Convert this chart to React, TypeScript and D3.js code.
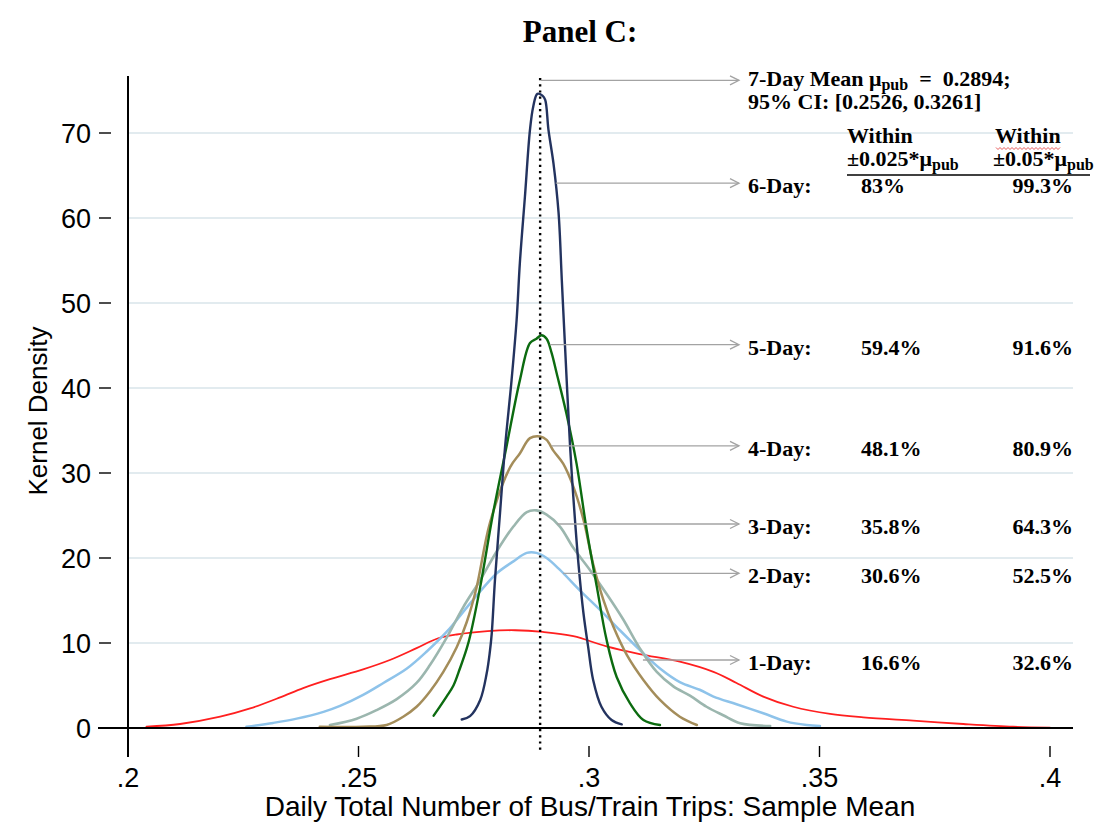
import React from 'react'
import * as d3 from 'd3'

const W = 1103
const H = 824

// kernel density curves (x = sample mean, y = density)
const day1X = [0.204, 0.2113, 0.22, 0.2265, 0.233, 0.238, 0.2438, 0.251, 0.2568, 0.2626, 0.267, 0.2713, 0.278, 0.284, 0.29, 0.2966, 0.3038, 0.311, 0.3197, 0.327, 0.332, 0.3378, 0.3443, 0.3523, 0.3595, 0.3703, 0.3812, 0.392, 0.4]
const day1Y = [0.15, 0.47, 1.33, 2.3, 3.6, 4.7, 5.75, 6.9, 8.0, 9.4, 10.5, 11.0, 11.4, 11.5, 11.3, 10.8, 9.6, 8.7, 7.8, 6.6, 5.3, 3.7, 2.5, 1.65, 1.25, 0.86, 0.47, 0.15, 0.05]

const day2X = [0.2257, 0.2315, 0.2366, 0.2424, 0.246, 0.251, 0.2554, 0.2605, 0.2648, 0.2691, 0.2749, 0.28, 0.2836, 0.2865, 0.2886, 0.2908, 0.2937, 0.298, 0.3024, 0.3067, 0.311, 0.3154, 0.3197, 0.324, 0.327, 0.332, 0.3378, 0.3429, 0.3472, 0.3501]
const day2Y = [0.15, 0.6, 1.1, 1.9, 2.6, 3.9, 5.3, 7.0, 9.0, 11.3, 15.1, 18.2, 19.6, 20.6, 20.6, 20.0, 18.6, 16.2, 13.9, 11.5, 9.2, 7.0, 5.4, 4.5, 3.7, 2.8, 1.73, 0.75, 0.35, 0.23]

const day3X = [0.2438, 0.2496, 0.2539, 0.2583, 0.2626, 0.2655, 0.2691, 0.2727, 0.2764, 0.28, 0.2836, 0.2865, 0.2886, 0.2908, 0.2937, 0.2966, 0.3002, 0.3038, 0.3074, 0.311, 0.3147, 0.3183, 0.3219, 0.3255, 0.3291, 0.3328, 0.3393]
const day3Y = [0.35, 1.1, 2.1, 3.4, 5.3, 7.4, 10.6, 14.2, 17.4, 20.8, 23.7, 25.4, 25.6, 25.1, 23.7, 21.2, 18.6, 15.8, 12.8, 9.4, 6.6, 4.9, 3.8, 2.5, 1.5, 0.55, 0.23]

const day4X = [0.2416, 0.251, 0.2561, 0.2597, 0.2626, 0.2655, 0.2684, 0.2713, 0.2735, 0.2756, 0.2785, 0.2829, 0.285, 0.2872, 0.2894, 0.2908, 0.2923, 0.2944, 0.2966, 0.2988, 0.3009, 0.3031, 0.3053, 0.3082, 0.3118, 0.3154, 0.3197, 0.3234]
const day4Y = [0.15, 0.15, 0.35, 1.33, 2.5, 4.3, 6.6, 9.5, 12.5, 16.5, 24.1, 30.7, 32.3, 34.1, 34.3, 33.9, 32.6, 31.1, 28.4, 24.5, 19.3, 15.1, 11.9, 8.6, 5.65, 3.3, 1.33, 0.35]

const day5X = [0.2663, 0.2691, 0.2706, 0.272, 0.2735, 0.2742, 0.2764, 0.2792, 0.2821, 0.285, 0.2872, 0.2886, 0.2897, 0.2908, 0.2919, 0.293, 0.2951, 0.2973, 0.2995, 0.3017, 0.3038, 0.306, 0.3089, 0.3118, 0.3154]
const day5Y = [1.45, 3.7, 5.0, 7.0, 9.4, 10.8, 16.6, 25.3, 33.1, 40.9, 45.3, 45.8, 46.2, 45.8, 44.1, 41.7, 37.0, 31.1, 23.3, 16.6, 10.4, 6.0, 2.9, 0.94, 0.35]

const day6X = [0.2724, 0.2742, 0.2764, 0.2778, 0.2785, 0.2789, 0.2796, 0.2807, 0.2818, 0.2832, 0.2843, 0.285, 0.2861, 0.2872, 0.2879, 0.2888, 0.2899, 0.2905, 0.2912, 0.2923, 0.2934, 0.2941, 0.2948, 0.2959, 0.2966, 0.2977, 0.2988, 0.2998, 0.3009, 0.3027, 0.3049, 0.3071]
const day6Y = [1.0, 1.4, 3.3, 6.4, 9.0, 11.1, 17.4, 25.3, 33.1, 40.9, 48.0, 54.7, 62.5, 70.4, 73.1, 74.6, 74.4, 73.9, 70.4, 66.4, 60.6, 52.7, 44.9, 33.1, 27.2, 19.4, 13.5, 9.6, 5.65, 2.5, 0.94, 0.43]

const seriesX = [day1X, day2X, day3X, day4X, day5X, day6X]
const seriesY = [day1Y, day2Y, day3Y, day4Y, day5Y, day6Y]
const seriesColors = ['#ff1f1f', '#8ec3ea', '#9bb6ae', '#a48d5a', '#0c6b10', '#23335f']
const seriesWidths = [1.8, 2.5, 2.6, 2.5, 2.4, 2.4]

const yTicks = [0, 10, 20, 30, 40, 50, 60, 70]
const xTicks = [0.2, 0.25, 0.3, 0.35, 0.4]
const xTickLabels = ['.2', '.25', '.3', '.35', '.4']

const mean7 = 0.2894

// pointer lines: 7-day mean first, then 6-day .. 1-day (data units where they leave the curves)
const arrowY = [76.2, 64.1, 45.1, 33.2, 24.0, 18.2, 8.0]
const arrowX0 = [0.2896, 0.2928, 0.2915, 0.2919, 0.2931, 0.2944, 0.3117]

const rowLabels = ['6-Day:', '5-Day:', '4-Day:', '3-Day:', '2-Day:', '1-Day:']
const within025 = ['83%', '59.4%', '48.1%', '35.8%', '30.6%', '16.6%']
const within05 = ['99.3%', '91.6%', '80.9%', '64.3%', '52.5%', '32.6%']

const sans = '"Liberation Sans", Arial, Helvetica, sans-serif'
const serif = '"Liberation Serif", "Times New Roman", Times, serif'

export default function App() {
  const x = d3.scaleLinear().domain([0.2, 0.4]).range([128, 1050])
  const y = d3.scaleLinear().domain([0, 70]).range([728, 133])

  const line = d3.line<[number, number]>()
    .x(d => x(d[0]))
    .y(d => y(d[1]))
    .curve(d3.curveCatmullRom.alpha(0.5))

  const plotRight = 1073
  const arrowEnd = 739
  const textX = 748
  const col1 = 861
  const col2 = 1073

  return (
    <svg width={W} height={H} style={{ position: 'absolute', left: 0, top: 0, background: '#fff' }}>
      <rect width={W} height={H} fill="#fff" />

      <text x={580} y={42} textAnchor="middle" fontFamily={serif} fontWeight="bold" fontSize={31}>Panel C:</text>

      {/* gridlines */}
      {yTicks.filter(t => t > 0).map(t => (
        <line key={t} x1={x(0.2)} x2={plotRight} y1={y(t)} y2={y(t)} stroke="#e2ebef" strokeWidth={2} />
      ))}

      {/* curves */}
      {seriesX.map((xs, i) => (
        <path key={i}
          d={line(xs.map((v, j) => [v, seriesY[i][j]] as [number, number])) || ''}
          fill="none" stroke={seriesColors[i]} strokeWidth={seriesWidths[i]}
          strokeLinejoin="round" strokeLinecap="round" />
      ))}

      {/* axes */}
      <line x1={128} x2={128} y1={76} y2={757} stroke="#000" strokeWidth={2} />
      <line x1={98} x2={plotRight} y1={y(0)} y2={y(0)} stroke="#000" strokeWidth={2} />
      {yTicks.map(t => (
        <g key={t}>
          <line x1={99} x2={111} y1={y(t)} y2={y(t)} stroke="#000" strokeWidth={1.4} />
          <text x={91} y={y(t)} dy="0.36em" textAnchor="end" fontFamily={sans} fontSize={27}>{t}</text>
        </g>
      ))}
      {xTicks.map((t, i) => (
        <g key={t}>
          <line x1={x(t)} x2={x(t)} y1={746} y2={757} stroke="#000" strokeWidth={1.4} />
          <text x={x(t)} y={787} textAnchor="middle" fontFamily={sans} fontSize={27}>{xTickLabels[i]}</text>
        </g>
      ))}
      <text transform="translate(47,411) rotate(-90)" textAnchor="middle" fontFamily={sans} fontSize={26}>Kernel Density</text>
      <text x={590} y={816} textAnchor="middle" fontFamily={sans} fontSize={28}>Daily Total Number of Bus/Train Trips: Sample Mean</text>

      {/* 7-day mean */}
      <line x1={x(mean7)} x2={x(mean7)} y1={78} y2={752} stroke="#000" strokeWidth={2.4} strokeDasharray="2.2 4" />

      {/* pointers */}
      {arrowY.map((v, i) => (
        <g key={i} stroke="#a3a3a3" strokeWidth={1.3} fill="none">
          <line x1={x(arrowX0[i])} x2={arrowEnd} y1={y(v)} y2={y(v)} />
          <polyline points={`${arrowEnd - 9},${y(v) - 4.5} ${arrowEnd},${y(v)} ${arrowEnd - 9},${y(v) + 4.5}`} />
        </g>
      ))}

      <g fontFamily={serif} fontWeight="bold" fontSize={22} fill="#000">
        <text x={textX} y={86}>7-Day Mean μ<tspan fontSize={16} dy={4}>pub</tspan><tspan dy={-4}>{'\u00a0 = \u00a00.2894;'}</tspan></text>
        <text x={textX} y={109}>95% CI: [0.2526, 0.3261]</text>

        <text x={847} y={143}>Within</text>
        <text x={847} y={166}>±0.025*μ<tspan fontSize={16} dy={4}>pub</tspan></text>
        <text x={995} y={143}>Within</text>
        <text x={993} y={166}>±0.05*μ<tspan fontSize={16} dy={4}>pub</tspan></text>

        {rowLabels.map((r, i) => {
          const by = y(arrowY[i + 1]) + 10
          return (
            <g key={r}>
              <text x={textX} y={by}>{r}</text>
              <text x={col1} y={by}>{within025[i]}</text>
              <text x={col2} y={by} textAnchor="end">{within05[i]}</text>
            </g>
          )
        })}
      </g>
      <line x1={847} x2={1090} y1={175} y2={175} stroke="#000" strokeWidth={1.3} />
      <path d={d3.range(0, 33).map(k => `${k === 0 ? 'M' : 'L'}${996 + k * 2},${k % 2 ? 149.5 : 147.5}`).join(' ')}
        fill="none" stroke="#e03030" strokeWidth={0.8} />
    </svg>
  )
}
